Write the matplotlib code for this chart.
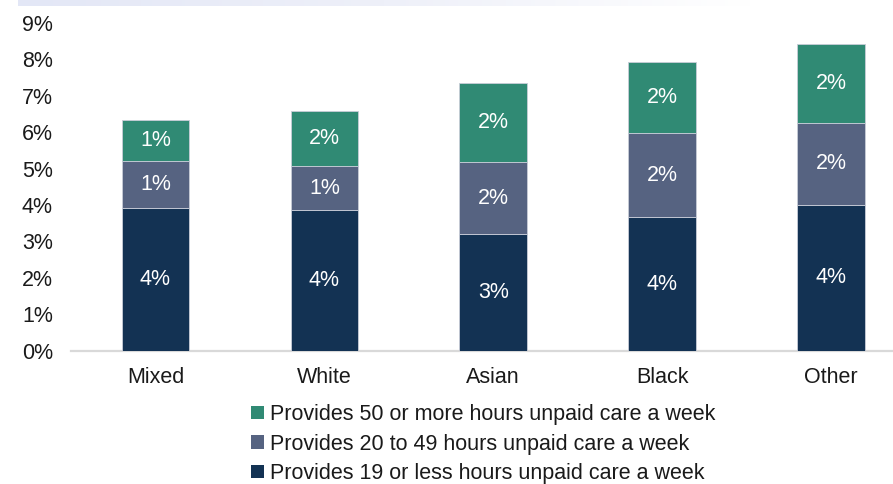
#!/usr/bin/env python3
"""Stacked bars: share providing unpaid care by ethnic group and weekly hours."""

import matplotlib
matplotlib.use("Agg")
import matplotlib.pyplot as plt
import numpy as np
from matplotlib.patches import Patch
from matplotlib.ticker import FuncFormatter

plt.rcParams["font.family"] = ["Liberation Sans", "DejaVu Sans"]

groups = ["Mixed", "White", "Asian", "Black", "Other"]
low_hours = [3.91, 3.86, 3.21, 3.67, 4.01]   # 19 or less hours
mid_hours = [1.30, 1.21, 1.96, 2.30, 2.25]   # 20 to 49 hours
high_hours = [1.13, 1.51, 2.18, 1.96, 2.15]  # 50 or more hours
series_labels = [
    "Provides 19 or less hours unpaid care a week",
    "Provides 20 to 49 hours unpaid care a week",
    "Provides 50 or more hours unpaid care a week",
]
y_ticks = list(range(0, 10))

COLORS = ["#133253", "#566381", "#308a74"]
EDGE = "#c9cdd8"
FS = 15.5


def main() -> None:
    fig = plt.figure(figsize=(8.93, 4.84), dpi=100, facecolor="white")

    # faint header band across the top edge
    band = fig.add_axes([0.02, 0.988, 0.82, 0.012])
    grad = np.linspace(0, 1, 256)[None, :]
    band.imshow(grad, aspect="auto", cmap=matplotlib.colors.LinearSegmentedColormap.from_list(
        "band", ["#e3e7f6", "#eef0f9", "#ffffff"]), extent=(0, 1, 0, 1))
    band.axis("off")

    ax = fig.add_axes([0.0795, 0.2748, 0.9205, 0.6787])
    x = np.arange(len(groups))
    width = 0.40
    bottom = np.zeros(len(groups))
    for values, color in zip([low_hours, mid_hours, high_hours], COLORS):
        vals = np.array(values)
        bars = ax.bar(x, vals, width, bottom=bottom, color=color, edgecolor=EDGE, linewidth=0.6, zorder=3)
        for rect, v, b in zip(bars, vals, bottom):
            ax.text(rect.get_x() + rect.get_width() / 2, b + v / 2, f"{v:.0f}%",
                    ha="center", va="center", color="white", fontsize=FS, zorder=4)
        bottom += vals

    ax.set_xlim(-0.5, 4.367)
    ax.set_ylim(0, 9)
    ax.set_yticks(y_ticks)
    ax.yaxis.set_major_formatter(FuncFormatter(lambda v, _: f"{v:.0f}%"))
    ax.set_xticks(x)
    ax.set_xticklabels(groups)
    ax.tick_params(axis="both", length=0, labelsize=FS, labelcolor="#1a1a1a")
    ax.tick_params(axis="y", pad=13)
    ax.tick_params(axis="x", pad=11.5)
    for name in ["top", "right", "left"]:
        ax.spines[name].set_visible(False)
    ax.spines["bottom"].set_color("#d9d9d9")
    ax.spines["bottom"].set_linewidth(1.6)

    handles = [Patch(facecolor=c, edgecolor="none") for c in COLORS][::-1]
    fig.legend(handles, series_labels[::-1], loc="upper left",
               bbox_to_anchor=(251 / 893, 1 - 404 / 484), frameon=False,
               fontsize=FS, labelcolor="#1a1a1a", handlelength=0.6, handleheight=0.6,
               handletextpad=0.3, labelspacing=0.4, borderaxespad=0, borderpad=0)

    fig.savefig("out.png", dpi=100, facecolor="white")
    plt.close(fig)


if __name__ == "__main__":
    main()
